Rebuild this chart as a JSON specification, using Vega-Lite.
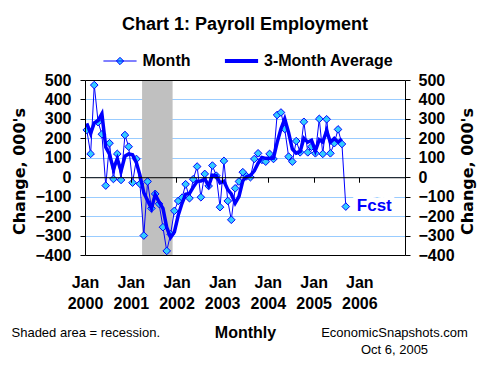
{
  "$schema": "https://vega.github.io/schema/vega-lite/v6.json",
  "width": 320,
  "height": 175,
  "autosize": {"type": "none"},
  "padding": {"left": 85, "top": 80, "right": 85, "bottom": 116},
  "background": "white",
  "title": {"text": "Chart 1: Payroll Employment", "font": "Liberation Sans", "fontSize": 18, "fontWeight": "bold", "color": "black", "anchor": "middle", "frame": "group", "offset": 19},
  "config": {"view": {"stroke": null}, "axis": {"labelFont": "Liberation Sans", "titleFont": "Liberation Sans", "labelColor": "black", "titleColor": "black"}},
  "datasets": {
    "recession": [{"start": "2001-04-01", "end": "2001-12-01"}],
    "payroll": [
      {"date": "2000-01-15", "month": 243, "avg": 277},
      {"date": "2000-02-15", "month": 120, "avg": 225},
      {"date": "2000-03-15", "month": 474, "avg": 279},
      {"date": "2000-04-15", "month": 283, "avg": 292},
      {"date": "2000-05-15", "month": 221, "avg": 326},
      {"date": "2000-06-15", "month": -43, "avg": 154},
      {"date": "2000-07-15", "month": 175, "avg": 118},
      {"date": "2000-08-15", "month": -9, "avg": 41},
      {"date": "2000-09-15", "month": 120, "avg": 95},
      {"date": "2000-10-15", "month": -14, "avg": 32},
      {"date": "2000-11-15", "month": 217, "avg": 108},
      {"date": "2000-12-15", "month": 157, "avg": 120},
      {"date": "2001-01-15", "month": -28, "avg": 115},
      {"date": "2001-02-15", "month": 94, "avg": 74},
      {"date": "2001-03-15", "month": -34, "avg": 11},
      {"date": "2001-04-15", "month": -300, "avg": -80},
      {"date": "2001-05-15", "month": -22, "avg": -119},
      {"date": "2001-06-15", "month": -160, "avg": -161},
      {"date": "2001-07-15", "month": -86, "avg": -89},
      {"date": "2001-08-15", "month": -137, "avg": -128},
      {"date": "2001-09-15", "month": -257, "avg": -160},
      {"date": "2001-10-15", "month": -379, "avg": -258},
      {"date": "2001-11-15", "month": -293, "avg": -310},
      {"date": "2001-12-15", "month": -173, "avg": -282},
      {"date": "2002-01-15", "month": -122, "avg": -196},
      {"date": "2002-02-15", "month": -105, "avg": -133},
      {"date": "2002-03-15", "month": -36, "avg": -88},
      {"date": "2002-04-15", "month": -108, "avg": -83},
      {"date": "2002-05-15", "month": -10, "avg": -51},
      {"date": "2002-06-15", "month": 55, "avg": -21},
      {"date": "2002-07-15", "month": -103, "avg": -19},
      {"date": "2002-08-15", "month": 17, "avg": -10},
      {"date": "2002-09-15", "month": -45, "avg": -44},
      {"date": "2002-10-15", "month": 60, "avg": 11},
      {"date": "2002-11-15", "month": 8, "avg": 8},
      {"date": "2002-12-15", "month": -154, "avg": -29},
      {"date": "2003-01-15", "month": 84, "avg": -21},
      {"date": "2003-02-15", "month": -122, "avg": -64},
      {"date": "2003-03-15", "month": -219, "avg": -86},
      {"date": "2003-04-15", "month": -57, "avg": -133},
      {"date": "2003-05-15", "month": -22, "avg": -99},
      {"date": "2003-06-15", "month": 26, "avg": -18},
      {"date": "2003-07-15", "month": 5, "avg": 3},
      {"date": "2003-08-15", "month": 0, "avg": 10},
      {"date": "2003-09-15", "month": 94, "avg": 33},
      {"date": "2003-10-15", "month": 123, "avg": 72},
      {"date": "2003-11-15", "month": 89, "avg": 102},
      {"date": "2003-12-15", "month": 80, "avg": 97},
      {"date": "2004-01-15", "month": 120, "avg": 96},
      {"date": "2004-02-15", "month": 94, "avg": 98},
      {"date": "2004-03-15", "month": 320, "avg": 178},
      {"date": "2004-04-15", "month": 333, "avg": 249},
      {"date": "2004-05-15", "month": 248, "avg": 300},
      {"date": "2004-06-15", "month": 106, "avg": 229},
      {"date": "2004-07-15", "month": 80, "avg": 145},
      {"date": "2004-08-15", "month": 186, "avg": 124},
      {"date": "2004-09-15", "month": 128, "avg": 131},
      {"date": "2004-10-15", "month": 285, "avg": 200},
      {"date": "2004-11-15", "month": 128, "avg": 180},
      {"date": "2004-12-15", "month": 157, "avg": 190},
      {"date": "2005-01-15", "month": 123, "avg": 136},
      {"date": "2005-02-15", "month": 300, "avg": 193},
      {"date": "2005-03-15", "month": 120, "avg": 181},
      {"date": "2005-04-15", "month": 298, "avg": 239},
      {"date": "2005-05-15", "month": 123, "avg": 180},
      {"date": "2005-06-15", "month": 175, "avg": 199},
      {"date": "2005-07-15", "month": 246, "avg": 181},
      {"date": "2005-08-15", "month": 171, "avg": 197},
      {"date": "2005-09-15", "month": -151, "avg": null, "note": "Fcst"}
    ]
  },
  "layer": [
    {
      "data": {"name": "recession"},
      "mark": {"type": "rect", "color": "#c0c0c0"},
      "encoding": {
        "x": {
          "field": "start", "type": "temporal",
          "scale": {"type": "utc", "nice": false, "domain": [{"year": 2000, "month": 1, "date": 1, "utc": true}, {"year": 2007, "month": 1, "date": 1, "utc": true}]},
          "axis": {
            "orient": "bottom",
            "values": [
              {"year": 2000, "month": 1, "date": 1, "utc": true},
              {"year": 2001, "month": 1, "date": 1, "utc": true},
              {"year": 2002, "month": 1, "date": 1, "utc": true},
              {"year": 2003, "month": 1, "date": 1, "utc": true},
              {"year": 2004, "month": 1, "date": 1, "utc": true},
              {"year": 2005, "month": 1, "date": 1, "utc": true},
              {"year": 2006, "month": 1, "date": 1, "utc": true}
            ],
            "labelExpr": "['Jan', utcFormat(datum.value, '%Y')]",
            "labelFontSize": 16, "labelFontWeight": "bold", "labelPadding": 19, "labelLineHeight": 21.5,
            "labelFlush": false, "labelOverlap": false, "labelBound": false,
            "ticks": false, "tickSize": 0, "domain": true, "domainColor": "black", "grid": false,
            "title": "Monthly", "titleFontSize": 16, "titleFontWeight": "bold",
            "titleX": 160, "titleY": 82.5, "titleAlign": "center", "titleBaseline": "alphabetic", "zindex": 1
          }
        },
        "x2": {"field": "end"}
      }
    },
    {
      "data": {"name": "payroll"},
      "mark": {"type": "line", "strokeWidth": 1},
      "encoding": {
        "x": {
          "field": "date", "type": "temporal",
          "axis": {
            "orient": "bottom",
            "values": [
              {"year": 2000, "month": 1, "date": 1, "utc": true},
              {"year": 2001, "month": 1, "date": 1, "utc": true},
              {"year": 2002, "month": 1, "date": 1, "utc": true},
              {"year": 2003, "month": 1, "date": 1, "utc": true},
              {"year": 2004, "month": 1, "date": 1, "utc": true},
              {"year": 2005, "month": 1, "date": 1, "utc": true},
              {"year": 2006, "month": 1, "date": 1, "utc": true},
              {"year": 2007, "month": 1, "date": 1, "utc": true}
            ],
            "labels": false, "ticks": true, "tickSize": 5, "tickColor": "black", "tickWidth": 1,
            "domain": true, "domainColor": "black", "grid": false, "title": null, "offset": -77.78, "zindex": 1
          }
        },
        "y": {
          "field": "month", "type": "quantitative",
          "scale": {"domain": [-400, 500], "nice": false, "zero": false},
          "axis": {
            "orient": "left", "values": [-400, -300, -200, -100, 0, 100, 200, 300, 400, 500],
            "labelFontSize": 16, "labelFontWeight": "bold", "labelPadding": 9,
            "tickSize": 5, "tickColor": "black", "domainColor": "black", "grid": false,
            "title": "Change, 000's", "titleFont": "DejaVu Sans", "titleFontSize": 16, "titleFontWeight": "bold",
            "titleAngle": 270, "titleX": -66, "titleY": 91, "titleAlign": "center", "titleBaseline": "middle", "zindex": 1
          }
        },
        "color": {
          "datum": "Month",
          "scale": {"domain": ["Month", "3-Month Average"], "range": ["#0000ff", "#0000ff"]},
          "legend": {
            "orient": "none", "legendX": 23.5, "legendY": -27, "direction": "horizontal", "title": null, "padding": 0,
            "symbolSize": 1100, "symbolStrokeWidth": 1, "symbolOffset": 3.5,
            "labelFont": "Liberation Sans", "labelFontSize": 16, "labelFontWeight": "bold", "labelColor": "black",
            "labelOffset": 14.5, "columnPadding": 25.5, "rowPadding": 0,
            "encode": {
              "symbols": {
                "update": {
                  "shape": {"signal": "datum.value === 'Month' ? 'M-1,0H1M-0.22,0L0,-0.22L0.22,0L0,0.22Z' : 'M-1,0H1'"},
                  "fill": {"signal": "datum.value === 'Month' ? '#33ccff' : 'transparent'"},
                  "stroke": {"value": "#0000ff"},
                  "strokeWidth": {"signal": "datum.value === 'Month' ? 1 : 4"},
                  "opacity": {"value": 1}
                }
              }
            }
          }
        }
      }
    },
    {
      "data": {"name": "payroll"},
      "mark": {"type": "point", "shape": "diamond", "filled": true, "fill": "#33ccff", "stroke": "#0000ff", "strokeWidth": 1, "size": 58, "opacity": 1},
      "encoding": {
        "x": {
          "field": "date", "type": "temporal",
          "axis": {
            "orient": "bottom", "labels": false, "ticks": false, "domain": false, "grid": false,
            "title": "Shaded area = recession.", "titleFontSize": 13, "titleFontWeight": "normal",
            "titleX": -74, "titleY": 81, "titleAlign": "left", "titleBaseline": "alphabetic"
          }
        },
        "y": {
          "field": "month", "type": "quantitative",
          "axis": {
            "orient": "left", "values": [-300, -200, -100, 0, 100, 200, 300, 400],
            "labels": false, "ticks": false, "domain": false, "grid": true, "gridColor": "#99ccff", "gridWidth": 1,
            "title": null, "zindex": 0
          }
        }
      }
    },
    {
      "data": {"name": "payroll"},
      "mark": {"type": "line", "strokeWidth": 3.5},
      "encoding": {
        "x": {
          "field": "date", "type": "temporal",
          "axis": {
            "orient": "bottom", "labels": false, "ticks": false, "domain": false, "grid": false,
            "title": ["EconomicSnapshots.com", "Oct 6, 2005"], "titleFontSize": 13, "titleFontWeight": "normal",
            "titleX": 309, "titleY": 81, "titleAlign": "center", "titleBaseline": "alphabetic", "titleLineHeight": 17
          }
        },
        "y": {
          "field": "avg", "type": "quantitative",
          "axis": {
            "orient": "right", "values": [-400, -300, -200, -100, 0, 100, 200, 300, 400, 500],
            "labelFontSize": 16, "labelFontWeight": "bold", "labelPadding": 8,
            "tickSize": 5, "tickColor": "black", "domainColor": "black", "grid": false,
            "title": "Change, 000's", "titleFont": "DejaVu Sans", "titleFontSize": 16, "titleFontWeight": "bold",
            "titleAngle": 270, "titleX": 62, "titleY": 91, "titleAlign": "center", "titleBaseline": "middle", "zindex": 1
          }
        },
        "color": {"datum": "3-Month Average"}
      }
    },
    {
      "data": {"name": "payroll"},
      "transform": [{"filter": "datum.note != null"}],
      "mark": {"type": "text", "align": "left", "baseline": "middle", "dx": 11, "dy": -1, "font": "Liberation Sans", "fontSize": 17, "fontWeight": "bold", "fill": "white", "stroke": "white", "strokeWidth": 10, "strokeJoin": "round"},
      "encoding": {
        "x": {
          "field": "date", "type": "temporal",
          "axis": {"orient": "top", "labels": false, "ticks": false, "domain": true, "domainColor": "black", "grid": false, "title": null, "zindex": 1}
        },
        "y": {"field": "month", "type": "quantitative", "axis": null},
        "text": {"field": "note"}
      }
    },
    {
      "data": {"name": "payroll"},
      "transform": [{"filter": "datum.note != null"}],
      "mark": {"type": "text", "align": "left", "baseline": "middle", "dx": 11, "dy": -1, "font": "Liberation Sans", "fontSize": 17, "fontWeight": "bold", "color": "#0000ff"},
      "encoding": {
        "x": {"field": "date", "type": "temporal", "axis": null},
        "y": {"field": "month", "type": "quantitative", "axis": null},
        "text": {"field": "note"}
      }
    }
  ],
  "resolve": {"axis": {"x": "independent", "y": "independent"}}
}
